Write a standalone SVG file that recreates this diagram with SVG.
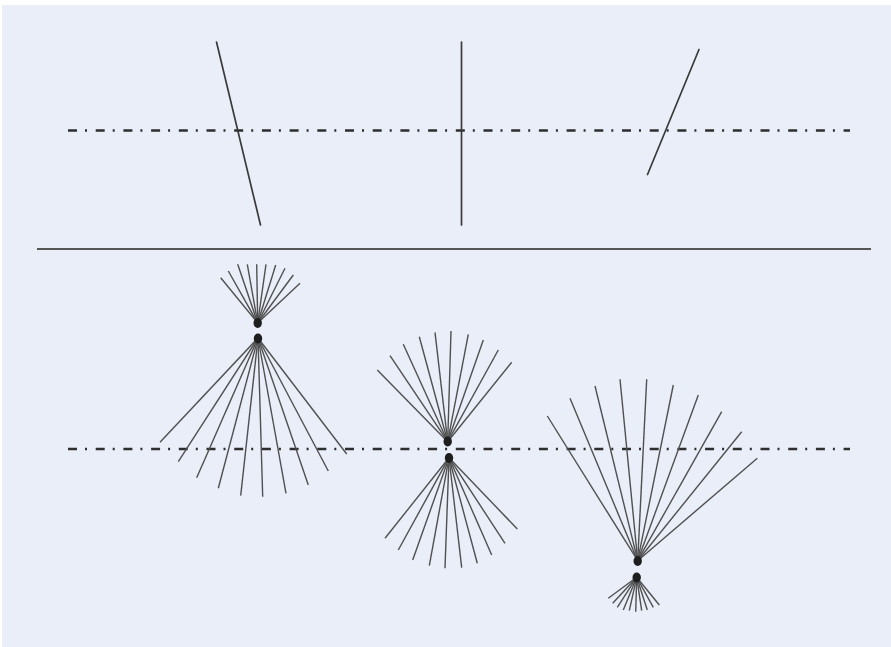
<svg xmlns="http://www.w3.org/2000/svg" width="891" height="647" viewBox="0 0 891 647">
<style>
.axis{stroke:#2e2e2e;stroke-width:2.4;stroke-dasharray:9 8 2 8.7;fill:none}
.obj{stroke:#3a3a3a;stroke-width:1.7;fill:none;stroke-linecap:round}
.sep{stroke:#555;stroke-width:1.8;fill:none}
.ray{stroke:#505050;stroke-width:1.4;fill:none}
.blob{fill:#1e1e1e}
</style>
<rect x="0" y="0" width="891" height="647" fill="#ffffff"/>
<rect x="2" y="5" width="889" height="642" fill="#e9eef8"/>

<g id="axes">
<line class="axis" x1="68" y1="130.5" x2="850" y2="130.5"/>
<line class="axis" x1="68" y1="449" x2="850" y2="449"/>
<line class="sep" x1="37" y1="249" x2="871" y2="249"/>
</g>

<g id="objects">
<line class="obj" x1="216.5" y1="42" x2="260.5" y2="225"/>
<line class="obj" x1="461.5" y1="42" x2="461.5" y2="225"/>
<line class="obj" x1="699" y1="49.5" x2="647.5" y2="174.5"/>
</g>

<g id="fan1">
<g class="ray">
<line x1="257.7" y1="323" x2="220.7" y2="277.7"/>
<line x1="257.7" y1="323" x2="228.3" y2="271"/>
<line x1="257.7" y1="323" x2="237.7" y2="264.3"/>
<line x1="257.7" y1="323" x2="247.3" y2="264.3"/>
<line x1="257.7" y1="323" x2="256.7" y2="264.3"/>
<line x1="257.7" y1="323" x2="266" y2="264.3"/>
<line x1="257.7" y1="323" x2="275.7" y2="265"/>
<line x1="257.7" y1="323" x2="285" y2="268.3"/>
<line x1="257.7" y1="323" x2="293.3" y2="275"/>
<line x1="257.7" y1="323" x2="300" y2="283.3"/>
<line x1="258" y1="338" x2="160" y2="442.3"/>
<line x1="258" y1="338" x2="178.3" y2="461.7"/>
<line x1="258" y1="338" x2="196.7" y2="477.7"/>
<line x1="258" y1="338" x2="218.3" y2="488.3"/>
<line x1="258" y1="338" x2="240.7" y2="495.7"/>
<line x1="258" y1="338" x2="262.7" y2="496.7"/>
<line x1="258" y1="338" x2="286" y2="493.3"/>
<line x1="258" y1="338" x2="308.3" y2="485"/>
<line x1="258" y1="338" x2="328.3" y2="471"/>
<line x1="258" y1="338" x2="346.7" y2="454"/>
</g>
<ellipse class="blob" cx="257.7" cy="323" rx="4.2" ry="5"/>
<ellipse class="blob" cx="258" cy="338.5" rx="4.2" ry="5"/>
</g>

<g id="fan2">
<g class="ray">
<line x1="447.7" y1="441.7" x2="377.3" y2="370"/>
<line x1="447.7" y1="441.7" x2="390" y2="355.7"/>
<line x1="447.7" y1="441.7" x2="403.3" y2="344.3"/>
<line x1="447.7" y1="441.7" x2="419.3" y2="336.7"/>
<line x1="447.7" y1="441.7" x2="435" y2="332.3"/>
<line x1="447.7" y1="441.7" x2="451" y2="331"/>
<line x1="447.7" y1="441.7" x2="468.3" y2="334.3"/>
<line x1="447.7" y1="441.7" x2="483.3" y2="340"/>
<line x1="447.7" y1="441.7" x2="498.3" y2="350"/>
<line x1="447.7" y1="441.7" x2="511.7" y2="362.3"/>
<line x1="449" y1="457.7" x2="385" y2="538.3"/>
<line x1="449" y1="457.7" x2="398.3" y2="550"/>
<line x1="449" y1="457.7" x2="412.7" y2="560"/>
<line x1="449" y1="457.7" x2="429.3" y2="565.7"/>
<line x1="449" y1="457.7" x2="445" y2="568.3"/>
<line x1="449" y1="457.7" x2="461.7" y2="567.7"/>
<line x1="449" y1="457.7" x2="477.3" y2="563.3"/>
<line x1="449" y1="457.7" x2="491.7" y2="555"/>
<line x1="449" y1="457.7" x2="505" y2="543.3"/>
<line x1="449" y1="457.7" x2="517.3" y2="529"/>
</g>
<ellipse class="blob" cx="447.7" cy="441.5" rx="4.2" ry="5"/>
<ellipse class="blob" cx="449" cy="458" rx="4.2" ry="5"/>
</g>

<g id="fan3">
<g class="ray">
<line x1="637.7" y1="560.7" x2="547.3" y2="416"/>
<line x1="637.7" y1="560.7" x2="570" y2="398.3"/>
<line x1="637.7" y1="560.7" x2="595" y2="386"/>
<line x1="637.7" y1="560.7" x2="620" y2="379.3"/>
<line x1="637.7" y1="560.7" x2="646.7" y2="379.3"/>
<line x1="637.7" y1="560.7" x2="673.3" y2="385"/>
<line x1="637.7" y1="560.7" x2="698.3" y2="395"/>
<line x1="637.7" y1="560.7" x2="721.7" y2="411.7"/>
<line x1="637.7" y1="560.7" x2="741.7" y2="431.7"/>
<line x1="637.7" y1="560.7" x2="757.3" y2="458.3"/>
<line x1="636.7" y1="577.3" x2="608.3" y2="598.3"/>
<line x1="636.7" y1="577.3" x2="612.7" y2="603.3"/>
<line x1="636.7" y1="577.3" x2="617.3" y2="607.3"/>
<line x1="636.7" y1="577.3" x2="623.3" y2="610"/>
<line x1="636.7" y1="577.3" x2="629.3" y2="610.7"/>
<line x1="636.7" y1="577.3" x2="635.7" y2="611.7"/>
<line x1="636.7" y1="577.3" x2="641.7" y2="610.7"/>
<line x1="636.7" y1="577.3" x2="647.3" y2="610"/>
<line x1="636.7" y1="577.3" x2="653.3" y2="607.3"/>
<line x1="636.7" y1="577.3" x2="659.3" y2="605"/>
</g>
<ellipse class="blob" cx="637.7" cy="561" rx="4.2" ry="5"/>
<ellipse class="blob" cx="636.7" cy="577.5" rx="4.2" ry="5"/>
</g>
</svg>
